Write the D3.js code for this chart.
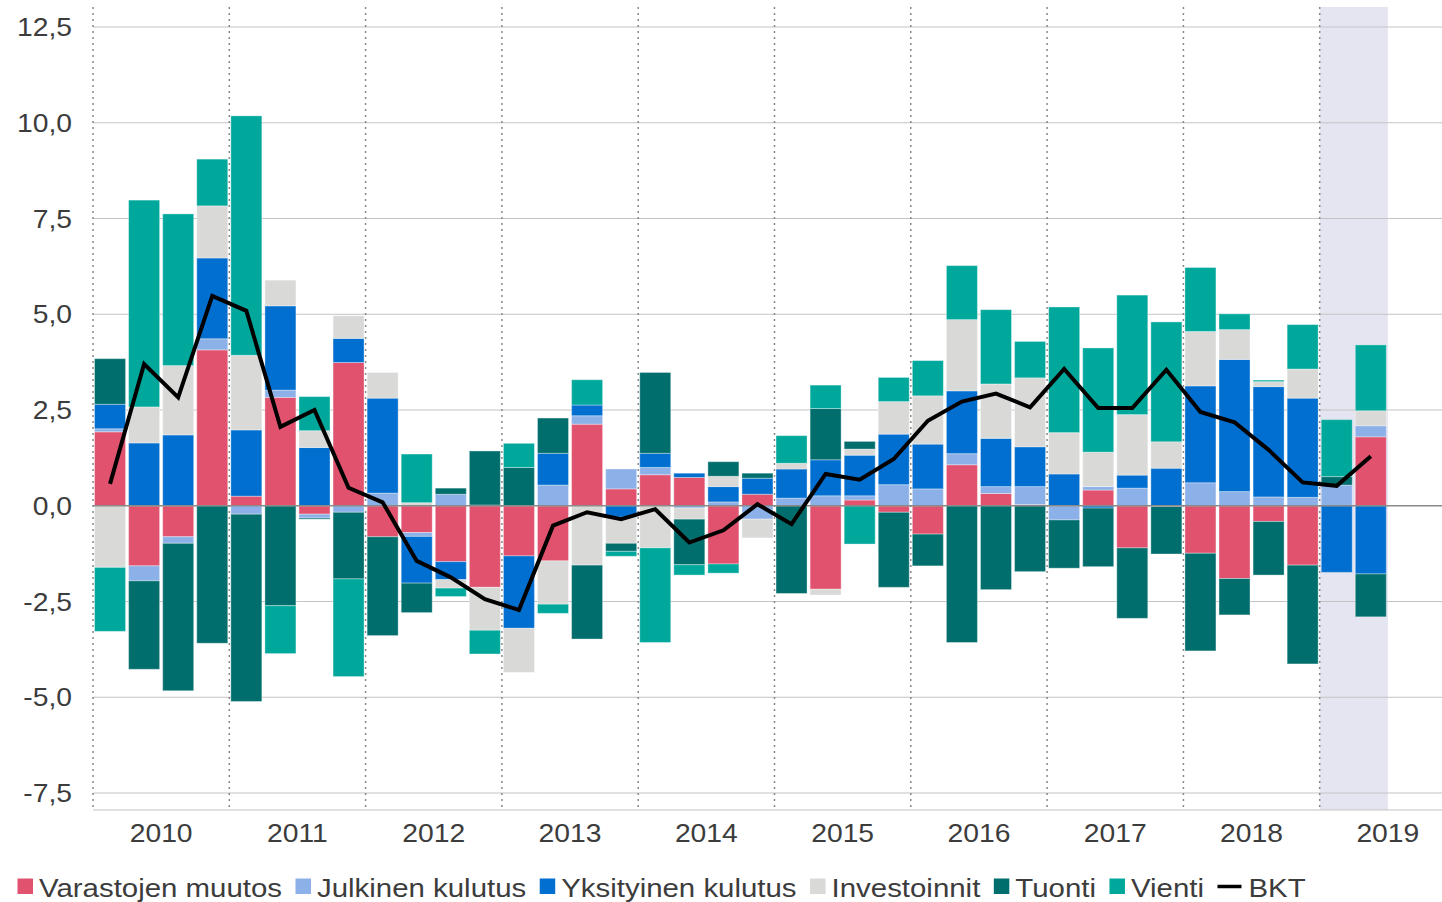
<!DOCTYPE html>
<html>
<head>
<meta charset="utf-8">
<script src="https://cdn.jsdelivr.net/npm/d3@7"></script>
<style>
  html, body { margin: 0; padding: 0; background: #fff; }
  svg { display: block; font-family: "Liberation Sans", Arial, sans-serif; }
</style>
</head>
<body>
<svg id="chart" width="1442" height="902"></svg>
<script>
// vuodet ja neljännekset
const years = ["2010", "2011", "2012", "2013", "2014", "2015", "2016", "2017", "2018", "2019"];
const quarters = years.flatMap(y => ["Q1", "Q2", "Q3", "Q4"].map(q => y + q)).slice(0, 38);

const seriesNames = ["Varastojen muutos", "Julkinen kulutus", "Yksityinen kulutus", "Investoinnit", "Tuonti", "Vienti"];
const seriesColors = ["#e0526e", "#8cb0e8", "#006fd0", "#d9d9d8", "#006e6c", "#00a89c"];

// kontribuutiot, %-yks.
const varastot   = [1.93, -1.57, -0.81, 4.07, 0.25, 2.83, -0.22, 3.74, -0.81, -0.70, -1.46, -2.13, -1.31, -1.44, 2.13, 0.44, 0.81, 0.74, -1.52, 0.30, 0, -2.18, 0.15, -0.17, -0.74, 1.07, 0.32, 0.03, 0, 0.41, -1.10, -0.02, -1.24, -1.90, -0.41, -1.55, 0, 1.80];
const julkinen   = [0.08, -0.39, -0.17, 0.29, -0.22, 0.19, -0.10, -0.17, 0.33, -0.10, 0.30, 0, 0, 0.54, 0.22, 0.52, 0.19, -0.06, 0.10, -0.35, 0.20, 0.26, 0.11, 0.55, 0.44, 0.29, 0.18, 0.47, -0.37, 0.09, 0.46, 0, 0.60, 0.37, 0.23, 0.22, 0.54, 0.29];
const yksityinen = [0.64, 1.64, 1.85, 2.11, 1.73, 2.20, 1.52, 0.63, 2.48, -1.22, -0.47, 0.02, -1.89, 0.83, 0.28, -0.30, 0.37, 0.11, 0.40, 0.42, 0.76, 0.94, 1.06, 1.32, 1.17, 1.64, 1.26, 1.04, 0.83, -0.06, 0.34, 0.98, 2.53, 3.45, 2.88, 2.59, -1.74, -1.78];
const investoinnit = [-1.61, 0.94, 1.81, 1.36, 1.95, 0.67, 0.44, 0.59, 0.67, 0.08, -0.22, -1.12, -1.15, -1.13, -1.55, -0.68, -1.10, -0.29, 0.27, -0.49, 0.15, -0.15, 0.16, 0.85, 1.26, 1.86, 1.42, 1.80, 1.08, 0.90, 1.58, 0.69, 1.42, 0.78, 0.13, 0.76, 0, 0.39];
const tuonti     = [1.19, -2.31, -3.85, -3.59, -4.89, -2.61, -0.03, -1.74, -2.58, -0.77, 0.16, 1.41, 1.00, 0.92, -1.93, -0.21, 2.11, -1.19, 0.38, 0.13, -2.29, 1.34, 0.20, -1.96, -0.83, -3.57, -2.19, -1.72, -1.26, -1.53, -1.84, -1.24, -2.55, -0.95, -1.40, -2.58, 0.22, -1.12];
const vienti     = [-1.67, 5.40, 3.96, 1.22, 6.25, -1.25, 0.89, -2.55, 0, 1.27, -0.22, -0.62, 0.63, -0.24, 0.66, -0.13, -2.47, -0.27, -0.24, 0, 0.72, 0.61, -1.00, 0.63, 0.92, 1.41, 1.94, 0.95, 3.28, 2.72, 3.12, 3.13, 1.67, 0.41, 0.04, 1.16, 1.49, 1.72];
const bkt        = [0.57, 3.70, 2.83, 5.48, 5.09, 2.06, 2.50, 0.47, 0.09, -1.44, -1.87, -2.44, -2.72, -0.52, -0.17, -0.35, -0.09, -0.96, -0.64, 0.04, -0.48, 0.83, 0.68, 1.22, 2.22, 2.72, 2.93, 2.57, 3.57, 2.55, 2.55, 3.55, 2.45, 2.18, 1.46, 0.61, 0.52, 1.29];

const yTicks = [-7.5, -5, -2.5, 0, 2.5, 5, 7.5, 10, 12.5];
const forecastQuarters = ["2019Q1", "2019Q2"];

const seriesValues = [varastot, julkinen, yksityinen, investoinnit, tuonti, vienti];
const rows = quarters.map((q, i) => {
    const r = { q };
    seriesNames.forEach((n, k) => r[n] = seriesValues[k][i]);
    return r;
});

const W = 1442, H = 902;
const plotLeft = 93, plotRight = 1456, plotTop = 7, plotBottom = 810;
const sx = 1.11; // teksti hieman leveämpää kuin Arial

const svg = d3.select("#chart");

const allSlots = years.flatMap(y => ["Q1", "Q2", "Q3", "Q4"].map(q => y + q));
const x = d3.scaleBand().domain(allSlots).range([plotLeft, plotRight]).paddingInner(0.09).paddingOuter(0.045);
const y = d3.scaleLinear().domain([-7.5, 12.5]).range([793, 27]);
const gap = (x.step() - x.bandwidth()) / 2;

const fi = d3.formatLocale({ decimal: ",", thousands: " ", grouping: [3], currency: ["", "€"], minus: "-" });
const fmt = fi.format(".1f");

function label(g, tx, ty, txt, anchor, size) {
    return g.append("text")
        .attr("transform", `translate(${tx},${ty}) scale(${sx},1)`)
        .attr("text-anchor", anchor)
        .attr("font-size", size)
        .attr("fill", "#3c3c3c")
        .text(txt);
}

// ennusteen tausta
svg.append("rect")
    .attr("x", x(forecastQuarters[0]) - gap)
    .attr("y", plotTop)
    .attr("width", x.step() * forecastQuarters.length)
    .attr("height", plotBottom - plotTop)
    .attr("fill", "#e5e5f1");

// vaakaviivat
svg.append("g").selectAll("line").data(yTicks.filter(d => d !== 0))
    .enter().append("line")
    .attr("x1", plotLeft).attr("x2", W)
    .attr("y1", d => y(d)).attr("y2", d => y(d))
    .attr("stroke", "#c4c4c4").attr("stroke-width", 1);

svg.append("line")
    .attr("x1", plotLeft).attr("x2", W)
    .attr("y1", plotBottom).attr("y2", plotBottom)
    .attr("stroke", "#c4c4c4").attr("stroke-width", 1);

// vuosirajat
svg.append("g").selectAll("line").data(years)
    .enter().append("line")
    .attr("x1", d => x(d + "Q1") - gap).attr("x2", d => x(d + "Q1") - gap)
    .attr("y1", plotTop).attr("y2", plotBottom)
    .attr("stroke", "#888").attr("stroke-width", 1.5)
    .attr("stroke-dasharray", "2,4");

// pylväät
const stack = d3.stack().keys(seriesNames).offset(d3.stackOffsetDiverging);
const layers = stack(rows);

svg.append("g").selectAll("g").data(layers)
    .enter().append("g")
    .attr("fill", (d, i) => seriesColors[i])
    .selectAll("rect").data(d => d)
    .enter().append("rect")
    .attr("x", d => x(d.data.q))
    .attr("width", x.bandwidth())
    .attr("y", d => y(Math.max(d[0], d[1])))
    .attr("height", d => Math.abs(y(d[0]) - y(d[1])))
    .attr("stroke", "#fff").attr("stroke-opacity", 0.35).attr("stroke-width", 1);

// nollaviiva
svg.append("line")
    .attr("x1", plotLeft).attr("x2", W)
    .attr("y1", y(0)).attr("y2", y(0))
    .attr("stroke", "#8a8a8a").attr("stroke-width", 1.5);

// BKT
const line = d3.line()
    .x((d, i) => x(quarters[i]) + x.bandwidth() / 2)
    .y(d => y(d));
svg.append("path")
    .datum(bkt)
    .attr("d", line)
    .attr("fill", "none")
    .attr("stroke", "#000")
    .attr("stroke-width", 4)
    .attr("stroke-linejoin", "miter");

// akselit
const axisG = svg.append("g");
yTicks.forEach(t => label(axisG, 72, y(t) + 9, fmt(t), "end", 25.5));
years.forEach(yr => label(axisG, x(yr + "Q1") - gap + x.step() * 2, 842, yr, "middle", 25.5));

// selite
const legend = svg.append("g");
let lx = 17.5;
seriesNames.forEach((n, i) => {
    legend.append("rect")
        .attr("x", lx).attr("y", 878.5)
        .attr("width", 15.5).attr("height", 15.5)
        .attr("fill", seriesColors[i]);
    const t = label(legend, lx + 21.5, 896.5, n, "start", 26.5);
    lx += 21.5 + t.node().getComputedTextLength() * sx + 13.5;
});
legend.append("line")
    .attr("x1", lx).attr("x2", lx + 24)
    .attr("y1", 886.5).attr("y2", 886.5)
    .attr("stroke", "#000").attr("stroke-width", 3.5);
label(legend, lx + 31, 896.5, "BKT", "start", 26.5);
</script>
</body>
</html>
